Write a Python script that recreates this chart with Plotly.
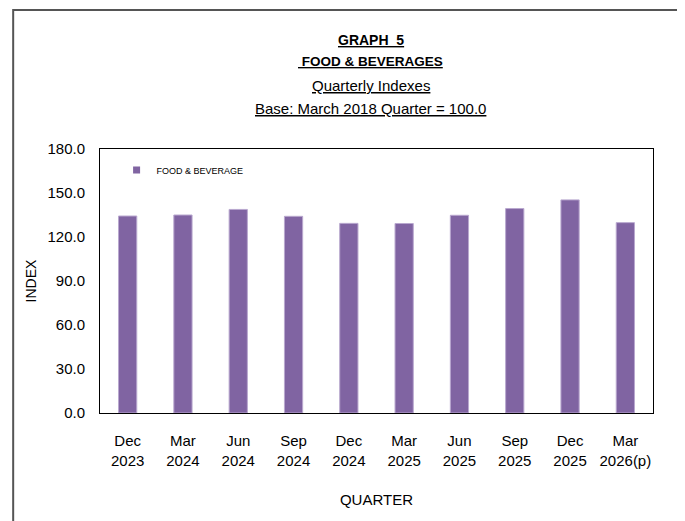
"""Graph 5 - Food & Beverages quarterly index bar chart"""
import plotly.graph_objects as go

quarters = ["Dec<br>2023", "Mar<br>2024", "Jun<br>2024", "Sep<br>2024", "Dec<br>2024",
            "Mar<br>2025", "Jun<br>2025", "Sep<br>2025", "Dec<br>2025", "Mar<br>2026(p)"]
food_index = [134.3, 135.0, 138.8, 134.1, 129.3, 129.2, 134.8, 139.4, 145.3, 129.8]
y_ticks = [0, 30, 60, 90, 120, 150, 180]

FONT = "Liberation Sans"
PURPLE = "#8064A2"

fig = go.Figure()
fig.add_trace(go.Bar(
    x=quarters,
    y=food_index,
    name="FOOD & BEVERAGE",
    marker_color=PURPLE,
    marker_line=dict(color="#B9A8CF", width=1),
    showlegend=False,
    legendgroup="fb",
))
# small square legend key, like the Excel one
fig.add_trace(go.Scatter(
    x=[None], y=[None], mode="markers", name="FOOD & BEVERAGE",
    marker=dict(symbol="square", size=7, color=PURPLE),
    legendgroup="fb",
))

# page body adds an 8px margin, so the figure is 8px smaller
fig.update_layout(
    width=677, height=513,
    margin=dict(l=92, r=32, t=141, b=108),
    paper_bgcolor="white", plot_bgcolor="white",
    bargap=0.67,
    font=dict(family=FONT, size=15, color="black"),
    showlegend=True,
    legend=dict(x=0.03, y=0.975, xanchor="left", yanchor="top",
                font=dict(size=9), bgcolor="rgba(0,0,0,0)",
                itemwidth=30),
)

fig.update_yaxes(
    range=[0, 180], tickvals=y_ticks, ticktext=[f"{v:.1f}" for v in y_ticks],
    showgrid=False, zeroline=False, showline=True, linecolor="black",
    linewidth=1, mirror=True, ticks="", ticklabelstandoff=11,
    tickfont=dict(size=15),
    title=dict(text="INDEX", font=dict(size=14), standoff=7),
)
fig.update_xaxes(
    showgrid=False, showline=True, linecolor="black", linewidth=1, mirror=True,
    ticks="", tickangle=0, ticklabelstandoff=14,
    tickfont=dict(size=15),
    title=dict(text="QUARTER", font=dict(size=15), standoff=26),
)

# title block
titles = [("<b><u>GRAPH  5</u></b>", 1.413, 14),
          ("<b><u> FOOD & BEVERAGES</u></b>", 1.330, 13.5),
          ("<u>Quarterly Indexes</u>", 1.242, 15),
          ("<u>Base: March 2018 Quarter = 100.0</u>", 1.155, 15)]
for text, y, size in titles:
    fig.add_annotation(text=text, x=0.49, y=y, xref="paper", yref="paper",
                       xanchor="center", yanchor="middle", showarrow=False,
                       font=dict(size=size, family=FONT))

# outer chart frame
fig.add_shape(type="rect", xref="paper", yref="paper",
              x0=-0.157, x1=1.0506, y0=-0.45, y1=1.5265,
              line=dict(color="#555555", width=2))

fig.write_html("out.html")
